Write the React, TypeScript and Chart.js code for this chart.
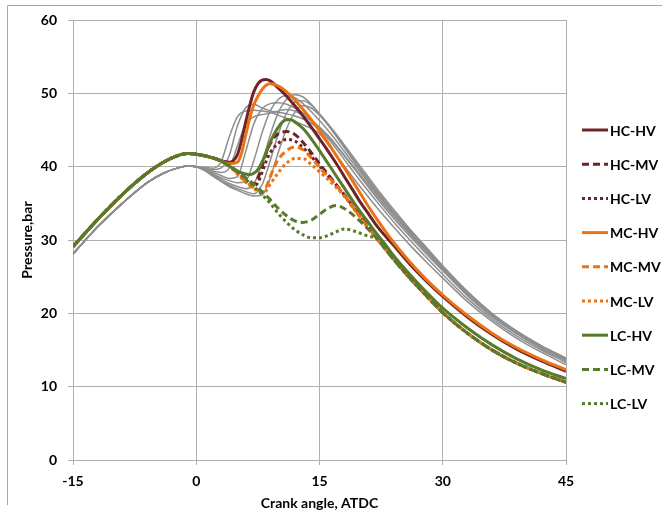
import { useEffect, useRef } from "react";
import { Chart, registerables } from "chart.js";

Chart.register(...registerables);

type Pt = [number, number];

// ---- axis ticks ----
const X_TICKS = [-15, 0, 15, 30, 45];
const Y_TICKS = [0, 10, 20, 30, 40, 50, 60];
const X_TITLE = "Crank angle, ATDC";
const Y_TITLE = "Pressure,bar";

// ---- shared compression part of the coloured (labelled) curves ----
const COLOURED_COMPRESSION: Pt[] = [
  [-15, 29.1], [-12, 32.8], [-9, 36.2], [-6, 39.1], [-4, 40.6], [-2, 41.6],
  [-1, 41.8], [0, 41.7], [1, 41.5], [2, 41.2], [3, 40.8],
];

// ---- shared expansion tail of the MV / LV curves ----
const MVLV_TAIL: Pt[] = [
  [22, 30.2], [24, 27.4], [26, 24.8], [28, 22.4], [30, 20.1], [33, 17.3],
  [36, 15.0], [39, 13.2], [42, 11.8], [45, 10.6],
];

const HC_HV: Pt[] = [
  [4, 40.6], [4.5, 40.8], [5, 41.6], [5.5, 43.5], [6, 46.0], [6.5, 48.3], [7, 50.2],
  [7.5, 51.3], [8, 51.8], [8.5, 51.9], [9, 51.7], [10, 50.7], [11, 49.6], [12, 48.3],
  [13, 46.9], [14, 45.4], [15, 43.8], [16, 42.2], [17, 40.5], [18, 38.7], [19, 36.9],
  [20, 35.1], [21, 33.5], [22, 31.9], [24, 29.3], [26, 26.7], [28, 24.4], [30, 22.3],
  [33, 19.5], [36, 17.1], [39, 15.1], [42, 13.5], [45, 12.1],
];
const HC_MV: Pt[] = [
  [4, 40.2], [5, 39.3], [6, 38.3], [6.5, 37.8], [7, 37.7], [7.5, 38.4], [8, 40.0],
  [8.5, 41.8], [9, 43.1], [9.5, 44.0], [10, 44.5], [11, 44.8], [12, 44.4], [13, 43.3],
  [14, 41.9], [15, 40.4], [16, 39.0], [17, 37.6], [18, 36.2], [19, 34.7], [20, 33.2],
  [21, 31.7],
];
const HC_LV: Pt[] = [
  [4, 40.2], [5, 39.2], [6, 38.1], [6.5, 37.6], [7, 37.4], [7.5, 37.8], [8, 39.2],
  [8.5, 40.7], [9, 41.9], [10, 43.2], [11, 43.7], [12, 43.5], [13, 42.6], [14, 41.4],
  [15, 40.1], [16, 38.8], [17, 37.5], [18, 36.1], [19, 34.6], [20, 33.1], [21, 31.6],
];
const MC_HV: Pt[] = [
  [4, 40.4], [5, 40.6], [5.5, 41.8], [6, 44.2], [6.5, 46.6], [7, 48.4], [7.5, 49.6],
  [8, 50.5], [8.5, 51.1], [9, 51.3], [10, 51.0], [11, 50.2], [12, 49.1], [13, 47.8],
  [14, 46.4], [15, 44.9], [16, 43.3], [17, 41.6], [18, 39.9], [19, 38.1], [20, 36.3],
  [21, 34.5], [22, 32.8], [23, 31.2], [24, 29.7], [26, 27.0], [28, 24.6], [30, 22.5],
  [33, 19.7], [36, 17.3], [39, 15.3], [42, 13.7], [45, 12.3],
];
const MC_MV: Pt[] = [
  [4, 40.1], [5, 39.1], [6, 38.0], [7, 37.1], [8, 36.6], [8.5, 37.2], [9, 38.6],
  [9.5, 40.0], [10, 41.0], [11, 42.2], [12, 42.7], [13, 42.3], [14, 41.2], [15, 39.9],
  [16, 38.7], [17, 37.5], [18, 36.1], [19, 34.6], [20, 33.1], [21, 31.6],
];
const MC_LV: Pt[] = [
  [4, 40.1], [5, 39.0], [6, 37.9], [7, 37.0], [8, 36.5], [8.5, 36.7], [9, 37.6],
  [10, 39.2], [11, 40.5], [12, 41.1], [13, 41.1], [14, 40.3], [15, 39.3], [16, 38.3],
  [17, 37.2], [18, 36.0], [19, 34.5], [20, 33.0], [21, 31.5],
];
const LC_HV: Pt[] = [
  [4, 40.1], [5, 39.4], [6, 39.0], [6.5, 38.9], [7, 39.1], [7.5, 39.6], [8, 40.6],
  [8.5, 41.9], [9, 43.3], [9.5, 44.5], [10, 45.4], [10.5, 46.1], [11, 46.4], [11.5, 46.4],
  [12, 46.1], [13, 45.2], [14, 43.8], [15, 42.2], [16, 40.5], [17, 38.8], [18, 37.1],
  [19, 35.4], [20, 33.8], [21, 32.3], [22, 30.8], [23, 29.4], [24, 27.9], [26, 25.3],
  [28, 22.9], [30, 20.7], [33, 18.0], [36, 15.7], [39, 13.8], [42, 12.3], [45, 11.1],
];
const LC_MV: Pt[] = [
  [4, 40.1], [5, 39.4], [6, 38.5], [7, 37.6], [8, 36.6], [9, 35.5], [10, 34.3],
  [11, 33.3], [12, 32.6], [13, 32.4], [14, 32.7], [15, 33.5], [16, 34.3], [17, 34.7],
  [18, 34.3], [19, 33.5], [20, 32.5], [21, 31.4],
];
const LC_LV: Pt[] = [
  [4, 40.1], [5, 39.3], [6, 38.3], [7, 37.3], [8, 36.2], [9, 35.0], [10, 33.6],
  [11, 32.4], [12, 31.4], [13, 30.7], [14, 30.3], [15, 30.3], [16, 30.6], [17, 31.1],
  [18, 31.5], [19, 31.3], [20, 30.9], [21, 30.5],
];

// ---- unlabelled grey reference curves ----
const GREY_COMPRESSION: Pt[] = [
  [-15, 28.1], [-12, 31.8], [-9, 35.0], [-6, 37.8], [-4, 39.1], [-2, 39.9],
  [-1, 40.1], [0, 40.0],
];
const GREY_1: Pt[] = [
  [1, 39.9], [2, 39.8], [3, 40.6], [4, 44.0], [5, 46.8], [6, 47.6], [7, 47.7], [8, 47.6],
  [9, 47.4], [10, 47.0], [11, 46.6], [12, 46.2], [13, 45.7], [14, 45.2], [15, 44.5],
  [16, 43.1], [17, 41.6], [18, 40.1], [20, 37.2], [22, 34.4], [24, 31.8], [26, 29.3],
  [28, 27.0], [30, 24.8], [33, 21.6], [36, 18.9], [39, 16.6], [42, 14.7], [45, 13.0],
];
const GREY_2: Pt[] = [
  [1, 39.8], [2, 39.6], [3, 39.8], [4, 41.5], [5, 45.5], [6, 48.0], [7, 48.5], [8, 48.0],
  [9, 47.6], [10, 47.4], [11, 47.2], [12, 46.9], [13, 46.5], [14, 45.9], [15, 45.1],
  [16, 43.9], [17, 42.5], [18, 41.0], [20, 38.0], [22, 35.2], [24, 32.5], [26, 30.0],
  [28, 27.6], [30, 25.3], [33, 22.0], [36, 19.2], [39, 16.9], [42, 15.0], [45, 13.3],
];
const GREY_3: Pt[] = [
  [1, 39.8], [2, 39.4], [3, 39.2], [4, 39.8], [5, 42.8], [6, 45.8], [7, 46.8], [8, 47.1],
  [9, 47.3], [10, 47.6], [11, 47.8], [12, 47.6], [13, 47.0], [14, 46.2], [15, 45.3],
  [16, 44.2], [17, 42.9], [18, 41.5], [20, 38.6], [22, 35.7], [24, 33.0], [26, 30.5],
  [28, 28.1], [30, 25.8], [33, 22.4], [36, 19.5], [39, 17.2], [42, 15.2], [45, 13.5],
];
const GREY_4: Pt[] = [
  [1, 39.7], [2, 39.2], [3, 38.8], [4, 38.4], [5, 38.6], [6, 42.0], [7, 45.8], [8, 47.9],
  [9, 48.6], [10, 48.7], [11, 48.5], [12, 48.0], [13, 47.3], [14, 46.4], [15, 45.4],
  [16, 44.3], [17, 43.0], [18, 41.6], [20, 38.8], [22, 36.0], [24, 33.3], [26, 30.8],
  [28, 28.4], [30, 26.0], [33, 22.6], [36, 19.7], [39, 17.4], [42, 15.4], [45, 13.7],
];
const GREY_5: Pt[] = [
  [1, 39.6], [2, 39.0], [3, 38.5], [4, 38.1], [5, 37.8], [6, 38.0], [7, 40.8], [8, 44.6],
  [9, 47.6], [10, 49.2], [11, 49.7], [12, 49.4], [13, 48.6], [14, 47.5], [15, 46.3],
  [16, 45.0], [17, 43.6], [18, 42.1], [20, 39.2], [22, 36.3], [24, 33.6], [26, 31.0],
  [28, 28.6], [30, 26.2], [33, 22.8], [36, 19.9], [39, 17.5], [42, 15.5], [45, 13.8],
];
const GREY_6: Pt[] = [
  [1, 39.6], [2, 38.9], [3, 38.3], [4, 37.7], [5, 37.3], [6, 37.0], [7, 37.6], [8, 40.5],
  [9, 44.3], [10, 47.4], [11, 49.2], [12, 49.8], [13, 49.5], [14, 48.5], [15, 47.2],
  [16, 45.9], [17, 44.5], [18, 43.0], [20, 40.0], [22, 37.0], [24, 34.2], [26, 31.5],
  [28, 29.0], [30, 26.5], [33, 23.0], [36, 20.0], [39, 17.6], [42, 15.6], [45, 13.9],
];
const GREY_7: Pt[] = [
  [1, 39.5], [2, 38.8], [3, 38.1], [4, 37.5], [5, 37.0], [6, 36.6], [7, 36.3], [8, 37.5],
  [9, 40.8], [10, 44.5], [11, 47.3], [12, 48.8], [13, 49.0], [14, 48.4], [15, 47.2],
  [16, 45.8], [17, 44.3], [18, 42.8], [20, 39.7], [22, 36.7], [24, 33.9], [26, 31.3],
  [28, 28.8], [30, 26.3], [33, 22.9], [36, 19.9], [39, 17.5], [42, 15.5], [45, 13.8],
];
const GREY_8: Pt[] = [
  [1, 39.5], [2, 38.7], [3, 38.0], [4, 37.3], [5, 36.8], [6, 36.3], [7, 36.0], [8, 36.1],
  [9, 38.5], [10, 42.0], [11, 45.2], [12, 47.4], [13, 48.3], [14, 48.0], [15, 47.0],
  [16, 45.7], [17, 44.2], [18, 42.6], [20, 39.5], [22, 36.5], [24, 33.7], [26, 31.1],
  [28, 28.7], [30, 26.2], [33, 22.8], [36, 19.8], [39, 17.4], [42, 15.4], [45, 13.7],
];

const LABELS = ["HC-HV", "HC-MV", "HC-LV", "MC-HV", "MC-MV", "MC-LV", "LC-HV", "LC-MV", "LC-LV"];

const HC_COLOR = "#6E2428";
const MC_COLOR = "#EC7314";
const LC_COLOR = "#587A2C";
const GREY_COLOR = "#8E8E8E";
const GRID_COLOR = "#AFAFAF";
const FRAME_COLOR = "#A6A6A6";
const FONT = "Lato";

const DASH = [7, 4];
const DOT = [3, 3];

const coloured = [
  { label: LABELS[0], pts: [...COLOURED_COMPRESSION, ...HC_HV], color: HC_COLOR, dash: [] as number[] },
  { label: LABELS[1], pts: [...COLOURED_COMPRESSION, ...HC_MV, ...MVLV_TAIL], color: HC_COLOR, dash: DASH },
  { label: LABELS[2], pts: [...COLOURED_COMPRESSION, ...HC_LV, ...MVLV_TAIL], color: HC_COLOR, dash: DOT },
  { label: LABELS[3], pts: [...COLOURED_COMPRESSION, ...MC_HV], color: MC_COLOR, dash: [] as number[] },
  { label: LABELS[4], pts: [...COLOURED_COMPRESSION, ...MC_MV, ...MVLV_TAIL], color: MC_COLOR, dash: DASH },
  { label: LABELS[5], pts: [...COLOURED_COMPRESSION, ...MC_LV, ...MVLV_TAIL], color: MC_COLOR, dash: DOT },
  { label: LABELS[6], pts: [...COLOURED_COMPRESSION, ...LC_HV], color: LC_COLOR, dash: [] as number[] },
  { label: LABELS[7], pts: [...COLOURED_COMPRESSION, ...LC_MV, ...MVLV_TAIL], color: LC_COLOR, dash: DASH },
  { label: LABELS[8], pts: [...COLOURED_COMPRESSION, ...LC_LV, ...MVLV_TAIL], color: LC_COLOR, dash: DOT },
];

const greys = [GREY_1, GREY_2, GREY_3, GREY_4, GREY_5, GREY_6, GREY_7, GREY_8];

const toXY = (pts: Pt[]) => pts.map(([x, y]) => ({ x, y }));

const frame = {
  id: "frame",
  beforeDraw(chart: any) {
    const ctx = chart.ctx as CanvasRenderingContext2D;
    ctx.save();
    ctx.strokeStyle = FRAME_COLOR;
    ctx.lineWidth = 1;
    ctx.beginPath();
    ctx.moveTo(7.5, 505);
    ctx.lineTo(7.5, 5.5);
    ctx.lineTo(662, 5.5);
    ctx.stroke();
    ctx.restore();
  },
};

const sideLegend = {
  id: "sideLegend",
  afterDraw(chart: any) {
    const ctx = chart.ctx as CanvasRenderingContext2D;
    ctx.save();
    coloured.forEach((c, i) => {
      const y = 130 + i * 34.2;
      ctx.strokeStyle = c.color;
      ctx.lineWidth = 3;
      ctx.setLineDash(c.dash);
      ctx.beginPath();
      ctx.moveTo(582, y);
      ctx.lineTo(608, y);
      ctx.stroke();
      ctx.setLineDash([]);
      ctx.fillStyle = "#000";
      ctx.font = `bold 14px ${FONT}`;
      ctx.textBaseline = "middle";
      ctx.textAlign = "left";
      ctx.fillText(c.label, 610, y + 1);
    });
    ctx.restore();
  },
};

export default function App() {
  const ref = useRef<HTMLCanvasElement | null>(null);

  useEffect(() => {
    document.body.style.margin = "0";
    if (!ref.current) return;
    const datasets: any[] = [];
    greys.forEach((g, i) => {
      datasets.push({
        label: `grey${i + 1}`,
        data: toXY([...GREY_COMPRESSION, ...g]),
        borderColor: GREY_COLOR,
        borderWidth: 1.5,
        pointRadius: 0,
        cubicInterpolationMode: "monotone",
        order: 100,
      });
    });
    coloured.forEach((c, i) => {
      datasets.push({
        label: c.label,
        data: toXY(c.pts),
        borderColor: c.color,
        borderWidth: 3,
        borderDash: c.dash,
        pointRadius: 0,
        cubicInterpolationMode: "monotone",
        order: 20 - i,
      });
    });

    const chart = new Chart(ref.current, {
      type: "line",
      data: { datasets },
      plugins: [frame, sideLegend],
      options: {
        animation: false,
        responsive: false,
        devicePixelRatio: 1,
        layout: { padding: { left: 0, right: 104, top: 20, bottom: 0 } },
        plugins: { legend: { display: false }, tooltip: { enabled: false } },
        scales: {
          x: {
            type: "linear",
            min: X_TICKS[0],
            max: X_TICKS[X_TICKS.length - 1],
            afterBuildTicks: (s: any) => {
              s.ticks = X_TICKS.map((v) => ({ value: v }));
            },
            afterFit: (s: any) => {
              s.height = 61;
            },
            grid: { color: GRID_COLOR, tickColor: GRID_COLOR, tickLength: 5, lineWidth: 1 },
            border: { color: GRID_COLOR, width: 1 },
            ticks: { color: "#000", padding: 8, font: { family: FONT, size: 14, weight: "bold" } },
            title: {
              display: true,
              text: X_TITLE,
              color: "#000",
              font: { family: FONT, size: 14, weight: "bold" },
              padding: { top: 0, bottom: 9 },
            },
          },
          y: {
            type: "linear",
            min: Y_TICKS[0],
            max: Y_TICKS[Y_TICKS.length - 1],
            afterBuildTicks: (s: any) => {
              s.ticks = Y_TICKS.map((v) => ({ value: v }));
            },
            afterFit: (s: any) => {
              s.width = 73;
            },
            grid: { color: GRID_COLOR, tickColor: GRID_COLOR, tickLength: 5, lineWidth: 1 },
            border: { color: GRID_COLOR, width: 1 },
            ticks: { color: "#000", padding: 11, font: { family: FONT, size: 14, weight: "bold" } },
            title: {
              display: true,
              text: Y_TITLE,
              color: "#000",
              font: { family: FONT, size: 14, weight: "bold" },
              padding: { top: 19, bottom: 0 },
            },
          },
        },
      },
    });
    return () => chart.destroy();
  }, []);

  return (
    <div style={{ position: "absolute", left: 0, top: 0, width: 670, height: 521, background: "#fff" }}>
      <canvas ref={ref} width={670} height={521} style={{ display: "block" }} />
    </div>
  );
}
